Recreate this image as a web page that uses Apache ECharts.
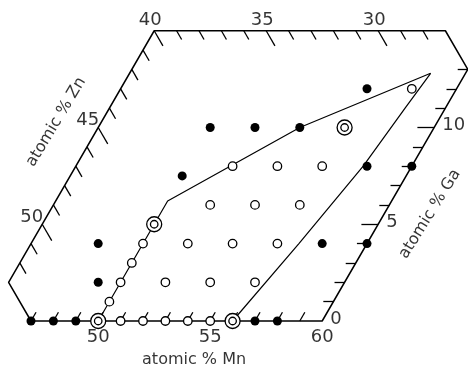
<!DOCTYPE html>
<html><head><meta charset="utf-8">
<script src="https://cdn.jsdelivr.net/npm/echarts/dist/echarts.min.js"></script>
<style>html,body{margin:0;padding:0;background:#fff}#c{width:468px;height:368px}</style>
</head><body><div id="c"></div>
<script>
// All points given as [atomic % Mn, atomic % Ga]; Zn = 100 - Mn - Ga
const frame = [[47,0],[60,0],[60,13],[58,15],[45,15],[45,2],[47,0]];
const filledPts = [[47,0],[48,0],[49,0],[57,0],[58,0],[49,2],[48,4],[58,4],[60,4],[50,7.5],[58,8],[60,8],[50,10],[52,10],[54,10],[56,12]];
const openPts = [[51,0],[52,0],[53,0],[54,0],[55,0],[50,1],[50,2],[52,2],[54,2],[56,2],[50,3],[50,4],[52,4],[54,4],[56,4],[52,6],[54,6],[56,6],[52,8],[54,8],[56,8],[58,12]];
const doublePts = [[50,0],[56,0],[50,5],[56,10]];
const boundaryLeft = [[50,0],[50,6.2],[52,8.1],[54,10],[58.44,12.8]];
const boundaryRight = [[58.44,12.8],[58.2,11],[57.83,8],[56.96,4],[56,0]];
// axis ticks and labels
const mnTicks = [47,48,49,50,51,52,53,54,55,56,57,58,59];
const mnLabels = [50,55,60];
const znTopTicks = [40,39,38,37,36,35,34,33,32,31,30,29,28];
const znTopLabels = [40,35,30];
const znLeftTicks = [41,42,43,44,45,46,47,48,49,50,51,52];
const znLeftLabels = [45,50];
const gaTicks = [1,2,3,4,5,6,7,8,9,10,11,12,13];
const gaLabels = [0,5,10];

function P(mn, ga){ return [mn + ga/2, ga]; }
const tern = a => a.map(p => P(p[0], p[1]));

const segs = [];
mnTicks.forEach(m => { const d = 0.45; segs.push({coords:[P(m,0), P(m,d)]}); });
znTopTicks.forEach(z => { const mn = 85 - z, d = (z % 5 === 0) ? 0.78 : 0.45; segs.push({coords:[P(mn,15), P(mn+d,15-d)]}); });
znLeftTicks.forEach(z => { const ga = 55 - z, d = (z % 5 === 0) ? 0.85 : 0.55; segs.push({coords:[P(45,ga), P(45+d,ga-d)]}); });
gaTicks.forEach(g => { const d = (g % 5 === 0) ? 0.75 : 0.45; segs.push({coords:[P(60,g), P(60-d,g)]}); });

const FONT = 'DejaVu Sans';
const numLabel = (extra) => Object.assign({show:true, color:'#000', fontFamily:FONT, fontSize:18, position:'inside', formatter: p => p.data[2]}, extra);
const titleLabel = (rot) => ({show:true, position:'inside', rotate:rot, color:'#000', fontFamily:FONT, fontSize:16, align:'center', verticalAlign:'middle', formatter:p=>p.data[2]});

const chart = echarts.init(document.getElementById('c'), null, {renderer:'canvas'});
chart.setOption({
  animation:false,
  backgroundColor:'#fff',
  grid:{left:8.6, right:0.2, top:30.75, bottom:47},
  xAxis:{type:'value', min:46, max:66.5, show:false},
  yAxis:{type:'value', min:0, max:15, show:false},
  series:[
    {type:'line', data:tern(frame), showSymbol:false, symbol:'none', clip:false, z:3,
     lineStyle:{color:'#000', width:1.5}},
    {type:'lines', coordinateSystem:'cartesian2d', data:segs, clip:false, z:3, silent:true,
     lineStyle:{color:'#000', width:1.3, opacity:1}},
    {type:'line', data:tern(boundaryLeft), showSymbol:false, symbol:'none', clip:false, z:3,
     lineStyle:{color:'#000', width:1.2}},
    {type:'line', data:tern(boundaryRight), showSymbol:false, symbol:'none', clip:false, z:3,
     lineStyle:{color:'#000', width:1.2}},
    {type:'scatter', data:tern(filledPts), symbol:'circle', symbolSize:9, clip:false, z:5,
     itemStyle:{color:'#000', opacity:1}},
    {type:'scatter', data:tern(openPts), symbol:'circle', symbolSize:8.5, clip:false, z:5,
     itemStyle:{color:'#fff', borderColor:'#000', borderWidth:1.3, opacity:1}},
    {type:'scatter', data:tern(doublePts), symbol:'circle', symbolSize:15, clip:false, z:5,
     itemStyle:{color:'#fff', borderColor:'#000', borderWidth:1.3, opacity:1}},
    {type:'scatter', data:tern(doublePts), symbol:'circle', symbolSize:7.5, clip:false, z:6,
     itemStyle:{color:'#fff', borderColor:'#000', borderWidth:1.3, opacity:1}},
    // tick labels
    {type:'scatter', symbolSize:0, clip:false, silent:true, z:7,
     data: mnLabels.map(m => P(m,0).concat([m])),
     label: numLabel({offset:[0,16], align:'center', verticalAlign:'middle'})},
    {type:'scatter', symbolSize:0, clip:false, silent:true, z:7,
     data: znTopLabels.map(z => P(85-z,15).concat([z])),
     label: numLabel({offset:[-4,-10], align:'center', verticalAlign:'middle'})},
    {type:'scatter', symbolSize:0, clip:false, silent:true, z:7,
     data: znLeftLabels.map(z => P(45,55-z).concat([z])),
     label: numLabel({offset:[1,-7], align:'right', verticalAlign:'middle'})},
    {type:'scatter', symbolSize:0, clip:false, silent:true, z:7,
     data: gaLabels.map(g => P(60,g).concat([g])),
     label: numLabel({offset:[8,-2], align:'left', verticalAlign:'middle'})},
    // axis titles
    {type:'scatter', symbolSize:0, clip:false, silent:true, z:7,
     data:[[54.28,-2.02,'atomic % Mn']], label:titleLabel(0)},
    {type:'scatter', symbolSize:0, clip:false, silent:true, z:7,
     data:[[48.12,10.28,'atomic % Zn']], label:titleLabel(59)},
    {type:'scatter', symbolSize:0, clip:false, silent:true, z:7,
     data:[[64.81,5.53,'atomic % Ga']], label:titleLabel(58)}
  ]
});
</script></body></html>
